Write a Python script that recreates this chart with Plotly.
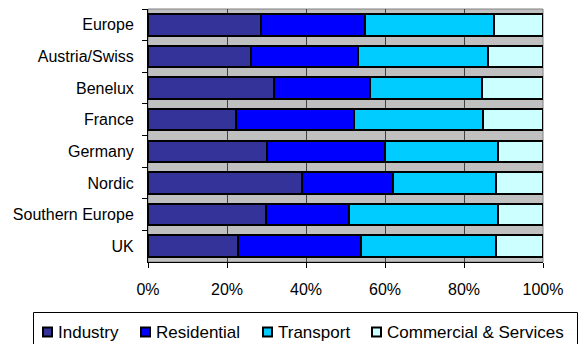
import plotly.graph_objects as go

regions = ["Europe", "Austria/Swiss", "Benelux", "France", "Germany", "Nordic", "Southern Europe", "UK"]
industry = [28.5, 26.1, 32.0, 22.4, 30.1, 38.9, 29.8, 22.9]
residential = [26.4, 27.0, 24.2, 29.7, 30.0, 23.2, 21.1, 31.0]
transport = [32.7, 32.9, 28.3, 32.7, 28.5, 26.0, 37.8, 34.1]
commercial = [12.4, 14.0, 15.5, 15.2, 11.4, 11.9, 11.3, 12.0]

series_names = ["Industry", "Residential", "Transport", "Commercial & Services"]
series_values = [industry, residential, transport, commercial]
series_colors = ["#333399", "#0000FF", "#00CCFF", "#CCFFFF"]
x_ticks = [0, 20, 40, 60, 80, 100]
x_tick_labels = ["0%", "20%", "40%", "60%", "80%", "100%"]

FONT = "Liberation Sans, Arial, sans-serif"
W, H = 583, 344
ML, MR, MT, MB = 148, 40, 9, 82
PW, PH = W - ML - MR, H - MT - MB


def px_x(px):
    return (px - ML) / PW


def px_y(py):
    return (H - MB - py) / PH


fig = go.Figure()
for name, vals, col in zip(series_names, series_values, series_colors):
    fig.add_trace(go.Bar(
        y=regions, x=vals, name=name, orientation="h",
        marker=dict(color=col, line=dict(color="black", width=2)),
    ))

fig.update_layout(
    barmode="stack", barnorm="percent", bargap=0.32,
    width=W, height=H,
    margin=dict(l=ML, r=MR, t=MT, b=MB),
    paper_bgcolor="white", plot_bgcolor="#C0C0C0",
    font=dict(family=FONT, size=16, color="black"),
    showlegend=False,
)
fig.update_xaxes(
    range=[0, 100], tickvals=x_ticks, ticktext=x_tick_labels,
    showgrid=True, gridcolor="#404040", gridwidth=1,
    showline=True, linecolor="black", linewidth=1,
    ticks="outside", ticklen=5, tickcolor="black", ticklabelstandoff=8,
    zeroline=False, fixedrange=True,
)
fig.update_yaxes(
    autorange="reversed", type="category",
    showline=True, linecolor="black", linewidth=1,
    ticks="outside", tickson="boundaries", ticklen=5, tickcolor="black",
    ticklabelstandoff=10, showgrid=False, fixedrange=True,
)
fig.add_shape(type="rect", xref="paper", yref="paper", x0=0, x1=1, y0=0, y1=1,
              line=dict(color="#808080", width=1), layer="below")

# manual legend box (cut off at the bottom like the reference)
fig.add_shape(type="rect", xref="paper", yref="paper",
              x0=px_x(33.5), x1=px_x(577.5), y0=px_y(312.5), y1=px_y(360),
              line=dict(color="black", width=1), fillcolor="white")
legend_starts = [43, 141, 263, 372]
ly = 332
for name, col, sx in zip(series_names, series_colors, legend_starts):
    fig.add_shape(type="rect", xref="paper", yref="paper",
                  x0=px_x(sx), x1=px_x(sx + 9), y0=px_y(ly + 4.5), y1=px_y(ly - 4.5),
                  line=dict(color="black", width=2), fillcolor=col)
    fig.add_annotation(xref="paper", yref="paper", x=px_x(sx + 13), y=px_y(ly),
                       text=name, showarrow=False, xanchor="left", yanchor="middle",
                       font=dict(family=FONT, size=17, color="black"))

fig.write_html("out.html")
